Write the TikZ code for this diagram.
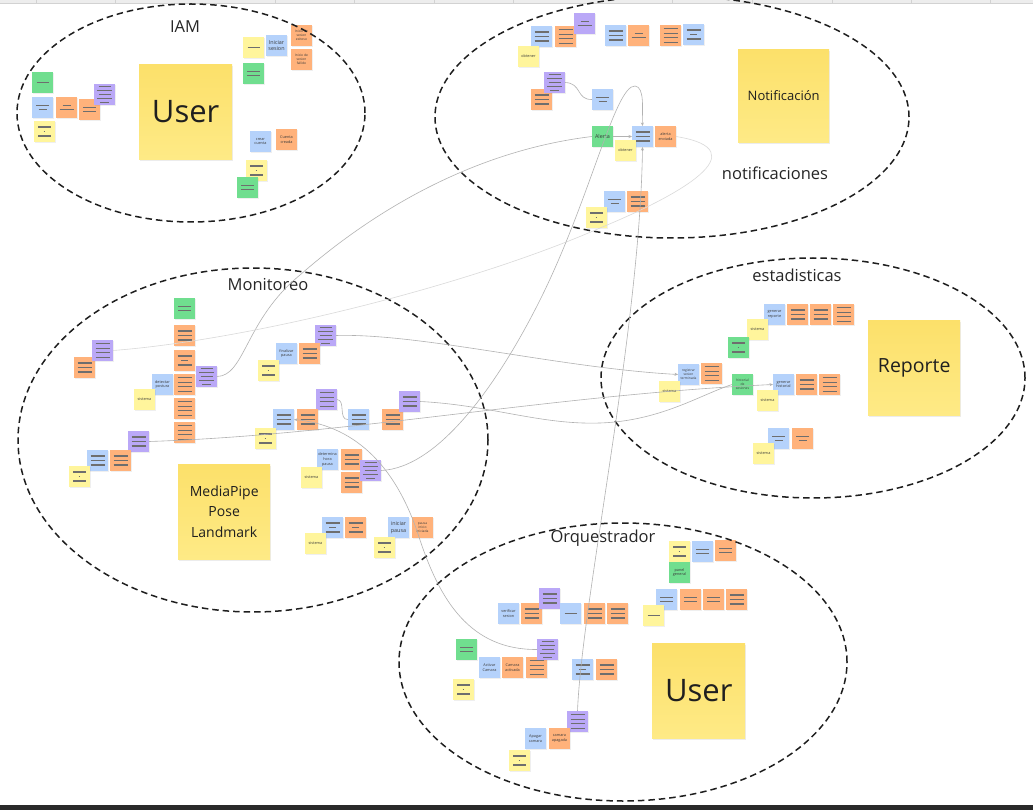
\documentclass[tikz,border=0pt]{standalone}
\usepackage{fontspec}
\setmainfont{Open Sans}
\usetikzlibrary{shapes.geometric,shadows,arrows.meta}
\definecolor{cY}{HTML}{FFF59C}
\definecolor{cG}{HTML}{70DE8F}
\definecolor{cB}{HTML}{B5D2FB}
\definecolor{cO}{HTML}{FFB27B}
\definecolor{cP}{HTML}{BAA8F7}
\definecolor{bigT}{HTML}{FCE06A}
\definecolor{bigB}{HTML}{FEEA86}
\definecolor{lnc}{HTML}{6E6E6E}
\definecolor{txc}{HTML}{3A3A3A}
\definecolor{zc}{HTML}{1E1E1E}
\definecolor{hdrc}{HTML}{EDEDED}
\definecolor{hdrl}{HTML}{D2D2D2}
\definecolor{botc}{HTML}{2A2A2A}
\definecolor{cg1}{HTML}{B2B2B2}
\definecolor{cg2}{HTML}{DADADA}
\newcommand{\Lr}[1]{\textcolor{lnc}{\rule{#1pt}{1.4pt}}}
\newcommand{\qA}{\Lr{12}}
\newcommand{\qB}{\Lr{13}\\\Lr{13}}
\newcommand{\qBs}{\Lr{13}\\\Lr{8}}
\newcommand{\qSB}{\Lr{8}\\\Lr{14}}
\newcommand{\qC}{\Lr{14}\\\Lr{14}\\\Lr{14}}
\newcommand{\qCm}{\Lr{14}\\\Lr{7}\\\Lr{14}}
\newcommand{\qD}{\Lr{13}\\\Lr{1.6}\\\Lr{13}}
\newcommand{\qE}{\Lr{14}\\\Lr{14}\\\Lr{14}\\\Lr{14}}
\newcommand{\qF}{\Lr{12}\\[-0.6pt]\Lr{15}\\[-0.6pt]\Lr{12}\\[-0.6pt]\Lr{15}\\[-0.6pt]\Lr{9}}
\tikzset{
 nt/.style={anchor=north west, minimum width=21, minimum height=21, inner sep=0pt, outer sep=0pt, align=center, text=txc, font=\fontsize{3.5}{4.5}\selectfont, drop shadow={shadow xshift=0.5pt, shadow yshift=-1pt, opacity=0.12}},
 yel/.style={nt, fill=cY}, grn/.style={nt, fill=cG}, blu/.style={nt, fill=cB},
 org/.style={nt, fill=cO}, pur/.style={nt, fill=cP},
 tx/.style={font=\fontsize{3.8}{4.6}\selectfont},
 txs/.style={font=\fontsize{3.3}{4.0}\selectfont},
 txl/.style={font=\fontsize{5.4}{6.6}\selectfont},
 big/.style={anchor=north west, minimum width=93, minimum height=95, inner sep=0pt, top color=bigT, bottom color=bigB, align=center, text=black!88, drop shadow={shadow xshift=1pt, shadow yshift=-2pt, opacity=0.15}},
 zone/.style={ellipse, draw=zc, dash pattern=on 6.5pt off 4pt, line width=1.5pt, inner sep=0pt},
 lbl/.style={font=\fontsize{16.5}{19}\selectfont, text=black!85},
 conn/.style={line width=0.6pt, draw=#1}, conn/.default=cg1,
 tip/.style={-{Stealth[length=3.5pt,width=3pt]}}
}
\begin{document}
\begin{tikzpicture}[x=1pt,y=-1pt]
\useasboundingbox (0,0) rectangle (1033,810);
\fill[white] (0,0) rectangle (1033,810);
\fill[hdrc] (0,0) rectangle (1033,3.5);
\draw[hdrl, line width=0.6pt] (0,3.5) -- (1033,3.5);
\foreach \xx in {36,115,275,354,434,513,672,752,832,911,990} \draw[hdrl, line width=0.6pt] (\xx,0) -- (\xx,3.5);
\fill[botc] (0,805) rectangle (1033,810);

% ---------- IAM ----------
\node[grn] (i1) at (32,72) {\qA};
\node[blu] (i2) at (32,97) {\qBs};
\node[yel] (i3) at (34,121) {\qD};
\node[org] (i4) at (56,97) {\qSB};
\node[org] (i5) at (79,99) {\qB};
\node[pur] (i6) at (94,84) {\qF};
\node[big, font=\fontsize{31}{34}\selectfont] (iuser) at (139,64) {User};
\node[yel] (i7) at (243,37) {\qA};
\node[blu, txl] (i8) at (266,35) {Iniciar\\sesion};
\node[org, txs] (i9) at (291,25) {Inicio de\\sesion\\exitoso};
\node[org, txs] (i10) at (291,49) {Inicio de\\sesion\\fallido};
\node[grn] (i11) at (243,63) {\qB};
\node[blu, tx] (i12) at (250,131) {crear\\cuenta};
\node[org, tx] (i13) at (276,129) {Cuenta\\creada};
\node[yel] (i14) at (246,160) {\qD};
\node[grn] (i15) at (237,177) {\qB};

% ---------- Notificaciones ----------
\node[blu] (n1) at (531,26) {\qC};
\node[org] (n2) at (555,26) {\qE};
\node[pur] (n3) at (574,13) {\qSB};
\node[blu] (n4) at (605,25) {\qC};
\node[org] (n5) at (628,25) {\qSB};
\node[org] (n6) at (660,25) {\qE};
\node[blu] (n7) at (683,24) {\qCm};
\node[yel, tx] (n8) at (518,46) {obtener};
\node[org] (n10) at (531,89) {\qC};
\node[pur] (n9) at (544,72) {\qF};
\node[blu] (n11) at (592,89) {\qBs};
\node[grn, txl] (nalert) at (592,126) {Alerta};
\node[blu] (nb) at (632,126) {\qC};
\node[org, tx] (nenv) at (655,126) {alerta\\enviada};
\node[yel, tx] (n12) at (615,140) {obtener};
\node[blu] (n13) at (604,191) {\qBs};
\node[org] (n14) at (627,191) {\qC};
\node[yel] (n15) at (586,207) {\qD};
\node[big, minimum width=91, minimum height=93, font=\fontsize{13}{15}\selectfont] (nbig) at (738,49) {Notificación};

% ---------- Monitoreo ----------
\node[grn] (m1) at (174,298) {\qB};
\node[org] (m2) at (174,325) {\qC};
\node[org] (m3) at (174,350) {\qCm};
\node[org] (m4) at (174,374) {\qE};
\node[org] (m5) at (174,398) {\qE};
\node[org] (m6) at (174,422) {\qE};
\node[pur] (mp2) at (196,366) {\qF};
\node[blu, tx] (m7) at (152,374) {detectar\\postura};
\node[yel, tx] (m8) at (134,389) {sistema};
\node[org] (m9) at (74,357) {\qC};
\node[pur] (mp1) at (92,340) {\qE};
\node[pur] (mp3) at (128,431) {\qC};
\node[blu] (m10) at (87,450) {\qC};
\node[org] (m11) at (110,450) {\qC};
\node[yel] (m12) at (69,466) {\qD};
\node[big, minimum width=92, minimum height=95, font=\fontsize{14}{20.5}\selectfont] (mbig) at (178,464) {MediaPipe\\Pose\\Landmark};

\node[pur] (mp4) at (315,325) {\qF};
\node[blu, tx] (m13) at (276,343) {finalizar\\pausa};
\node[org] (m14) at (299,343) {\qC};
\node[yel] (m15) at (258,360) {\qD};
\node[pur] (mp5) at (316,389) {\qE};
\node[blu] (mb2) at (273,409) {\qC};
\node[org] (m16) at (297,409) {\qC};
\node[yel] (m17) at (255,428) {\qD};
\node[blu] (mb3) at (348,409) {\qC};
\node[org] (m18) at (382,409) {\qC};
\node[pur] (mp6) at (399,391) {\qC};
\node[blu, tx] (m19) at (317,449) {determina\\hora\\pausa};
\node[org] (m20) at (341,449) {\qC};
\node[org] (m21) at (341,472) {\qC};
\node[pur] (mp9) at (360,460) {\qF};
\node[yel, tx] (m22) at (301,467) {sistema};
\node[blu] (m23) at (322,517) {\qCm};
\node[org] (m24) at (345,517) {\qCm};
\node[yel, tx] (m25) at (305,533) {sistema};
\node[blu, txl] (m26) at (388,517) {iniciar\\pausa};
\node[org, txs] (m27) at (412,517) {pausa\\inicio\\iniciada};
\node[yel] (m28) at (374,537) {\qD};

% ---------- estadisticas ----------
\node[blu, tx] (e1) at (764,304) {generar\\reporte};
\node[org] (e2) at (787,304) {\qC};
\node[org] (e3) at (810,304) {\qC};
\node[org] (e4) at (833,304) {\qE};
\node[yel, tx] (e5) at (747,319) {sistema};
\node[grn] (e6) at (728,337) {\qD};
\node[blu, txs] (eb1) at (678,364) {registrar\\sesion\\terminada};
\node[org] (e7) at (701,363) {\qE};
\node[yel, tx] (e8) at (659,381) {sistema};
\node[grn, txs] (egh) at (732,374) {historial\\de\\sesiones};
\node[blu, tx] (eb3) at (773,374) {generar\\historial};
\node[org] (e9) at (796,374) {\qC};
\node[org] (e10) at (819,374) {\qE};
\node[yel, tx] (e11) at (757,390) {sistema};
\node[blu] (e12) at (768,428) {\qBs};
\node[org] (e13) at (792,428) {\qBs};
\node[yel, tx] (e14) at (753,443) {sistema};
\node[big, minimum width=92, minimum height=95, font=\fontsize{19.5}{22}\selectfont] (ebig) at (868,320) {Reporte};

% ---------- Orquestrador ----------
\node[yel] (o1) at (669,541) {\qD};
\node[blu] (o2) at (692,541) {\qB};
\node[org] (o3) at (715,540) {\qB};
\node[grn, tx] (o4) at (669,562) {panel\\general};
\node[blu] (o5) at (656,589) {\qB};
\node[org] (o6) at (680,589) {\qB};
\node[org] (o7) at (703,589) {\qB};
\node[org] (o8) at (726,589) {\qC};
\node[yel] (o9) at (643,605) {\qA};
\node[blu, tx] (o10) at (498,603) {verificar\\sesion};
\node[org] (o11) at (521,603) {\qC};
\node[pur] (op1) at (539,588) {\qC};
\node[blu] (o12) at (560,603) {\qA};
\node[org] (o13) at (584,603) {\qC};
\node[org] (o14) at (607,603) {\qC};
\node[grn] (o15) at (456,639) {\qB};
\node[blu, tx] (o16) at (479,657) {Activar\\Camara};
\node[org, tx] (o17) at (502,657) {Camara\\activada};
\node[org] (o18) at (526,657) {\qE};
\node[pur] (op2) at (537,639) {\qF};
\node[yel] (o19) at (453,679) {\qD};
\node[blu] (o20) at (572,659) {\qCm};
\node[org] (o21) at (596,659) {\qC};
\node[pur] (op3) at (567,711) {\qE};
\node[blu, tx] (o22) at (525,728) {Apagar\\camara};
\node[org, tx] (o23) at (549,728) {camara\\apagada};
\node[yel] (o24) at (509,750) {\qD};
\node[big, font=\fontsize{31}{34}\selectfont] (obig) at (652,643) {User};

% ---------- zones ----------
\node[zone, minimum width=348, minimum height=218] (ziam) at (191,113) {};
\node[zone, minimum width=474, minimum height=242] (znot) at (672,117) {};
\node[zone, minimum width=470, minimum height=344] (zmon) at (253,440) {};
\node[zone, minimum width=424, minimum height=240] (zest) at (813,378) {};
\node[zone, minimum width=448, minimum height=278] (zorq) at (623,662) {};

\node[lbl] (liam) at (185,27) {IAM};
\node[lbl] (lnot) at (775,173) {notificaciones};
\node[lbl] (lmon) at (268,285) {Monitoreo};
\node[lbl] (lest) at (797,275) {estadisticas};
\node[lbl] (lorq) at (603,538) {Orquestrador};

% ---------- connectors ----------
\draw[conn] (mp2.east) .. controls (245,376) and (245,320) .. (300,275)
  .. controls (380,205) and (480,150) .. (nalert.west);
\draw[conn=cg2] (mp1.east) .. controls (250,340) and (470,285) .. (600,228)
  .. controls (680,195) and (760,150) .. (nenv.east);
\draw[conn, tip] (mp9.east) .. controls (440,468) and (500,380) .. (540,300)
  .. controls (590,200) and (615,85) .. (635,86)
  .. controls (645,87) and (642,110) .. (nb.north);
\draw[conn, tip] (op3.north) .. controls (582,600) and (640,330) .. (nb.south);
\draw[conn, tip] (mp3.east) .. controls (350,435) and (550,395) .. (eb3.west);
\draw[conn, tip] (mp4.east) .. controls (420,333) and (560,368) .. (eb1.west);
\draw[conn] (mp6.east) .. controls (490,405) and (540,425) .. (600,423)
  .. controls (660,421) and (700,395) .. (egh.west);
\draw[conn, tip] (op2.west) .. controls (470,650) and (440,600) .. (420,540)
  .. controls (395,460) and (350,425) .. (mb2.east);
\draw[conn] (n9.east) .. controls (582,83) and (576,100) .. (n11.west);
\draw[conn, tip] (nalert.east) -- (nb.west);
\draw[conn] (mp5.east) .. controls (346,400) and (338,420) .. (mb3.west);
\end{tikzpicture}
\end{document}
